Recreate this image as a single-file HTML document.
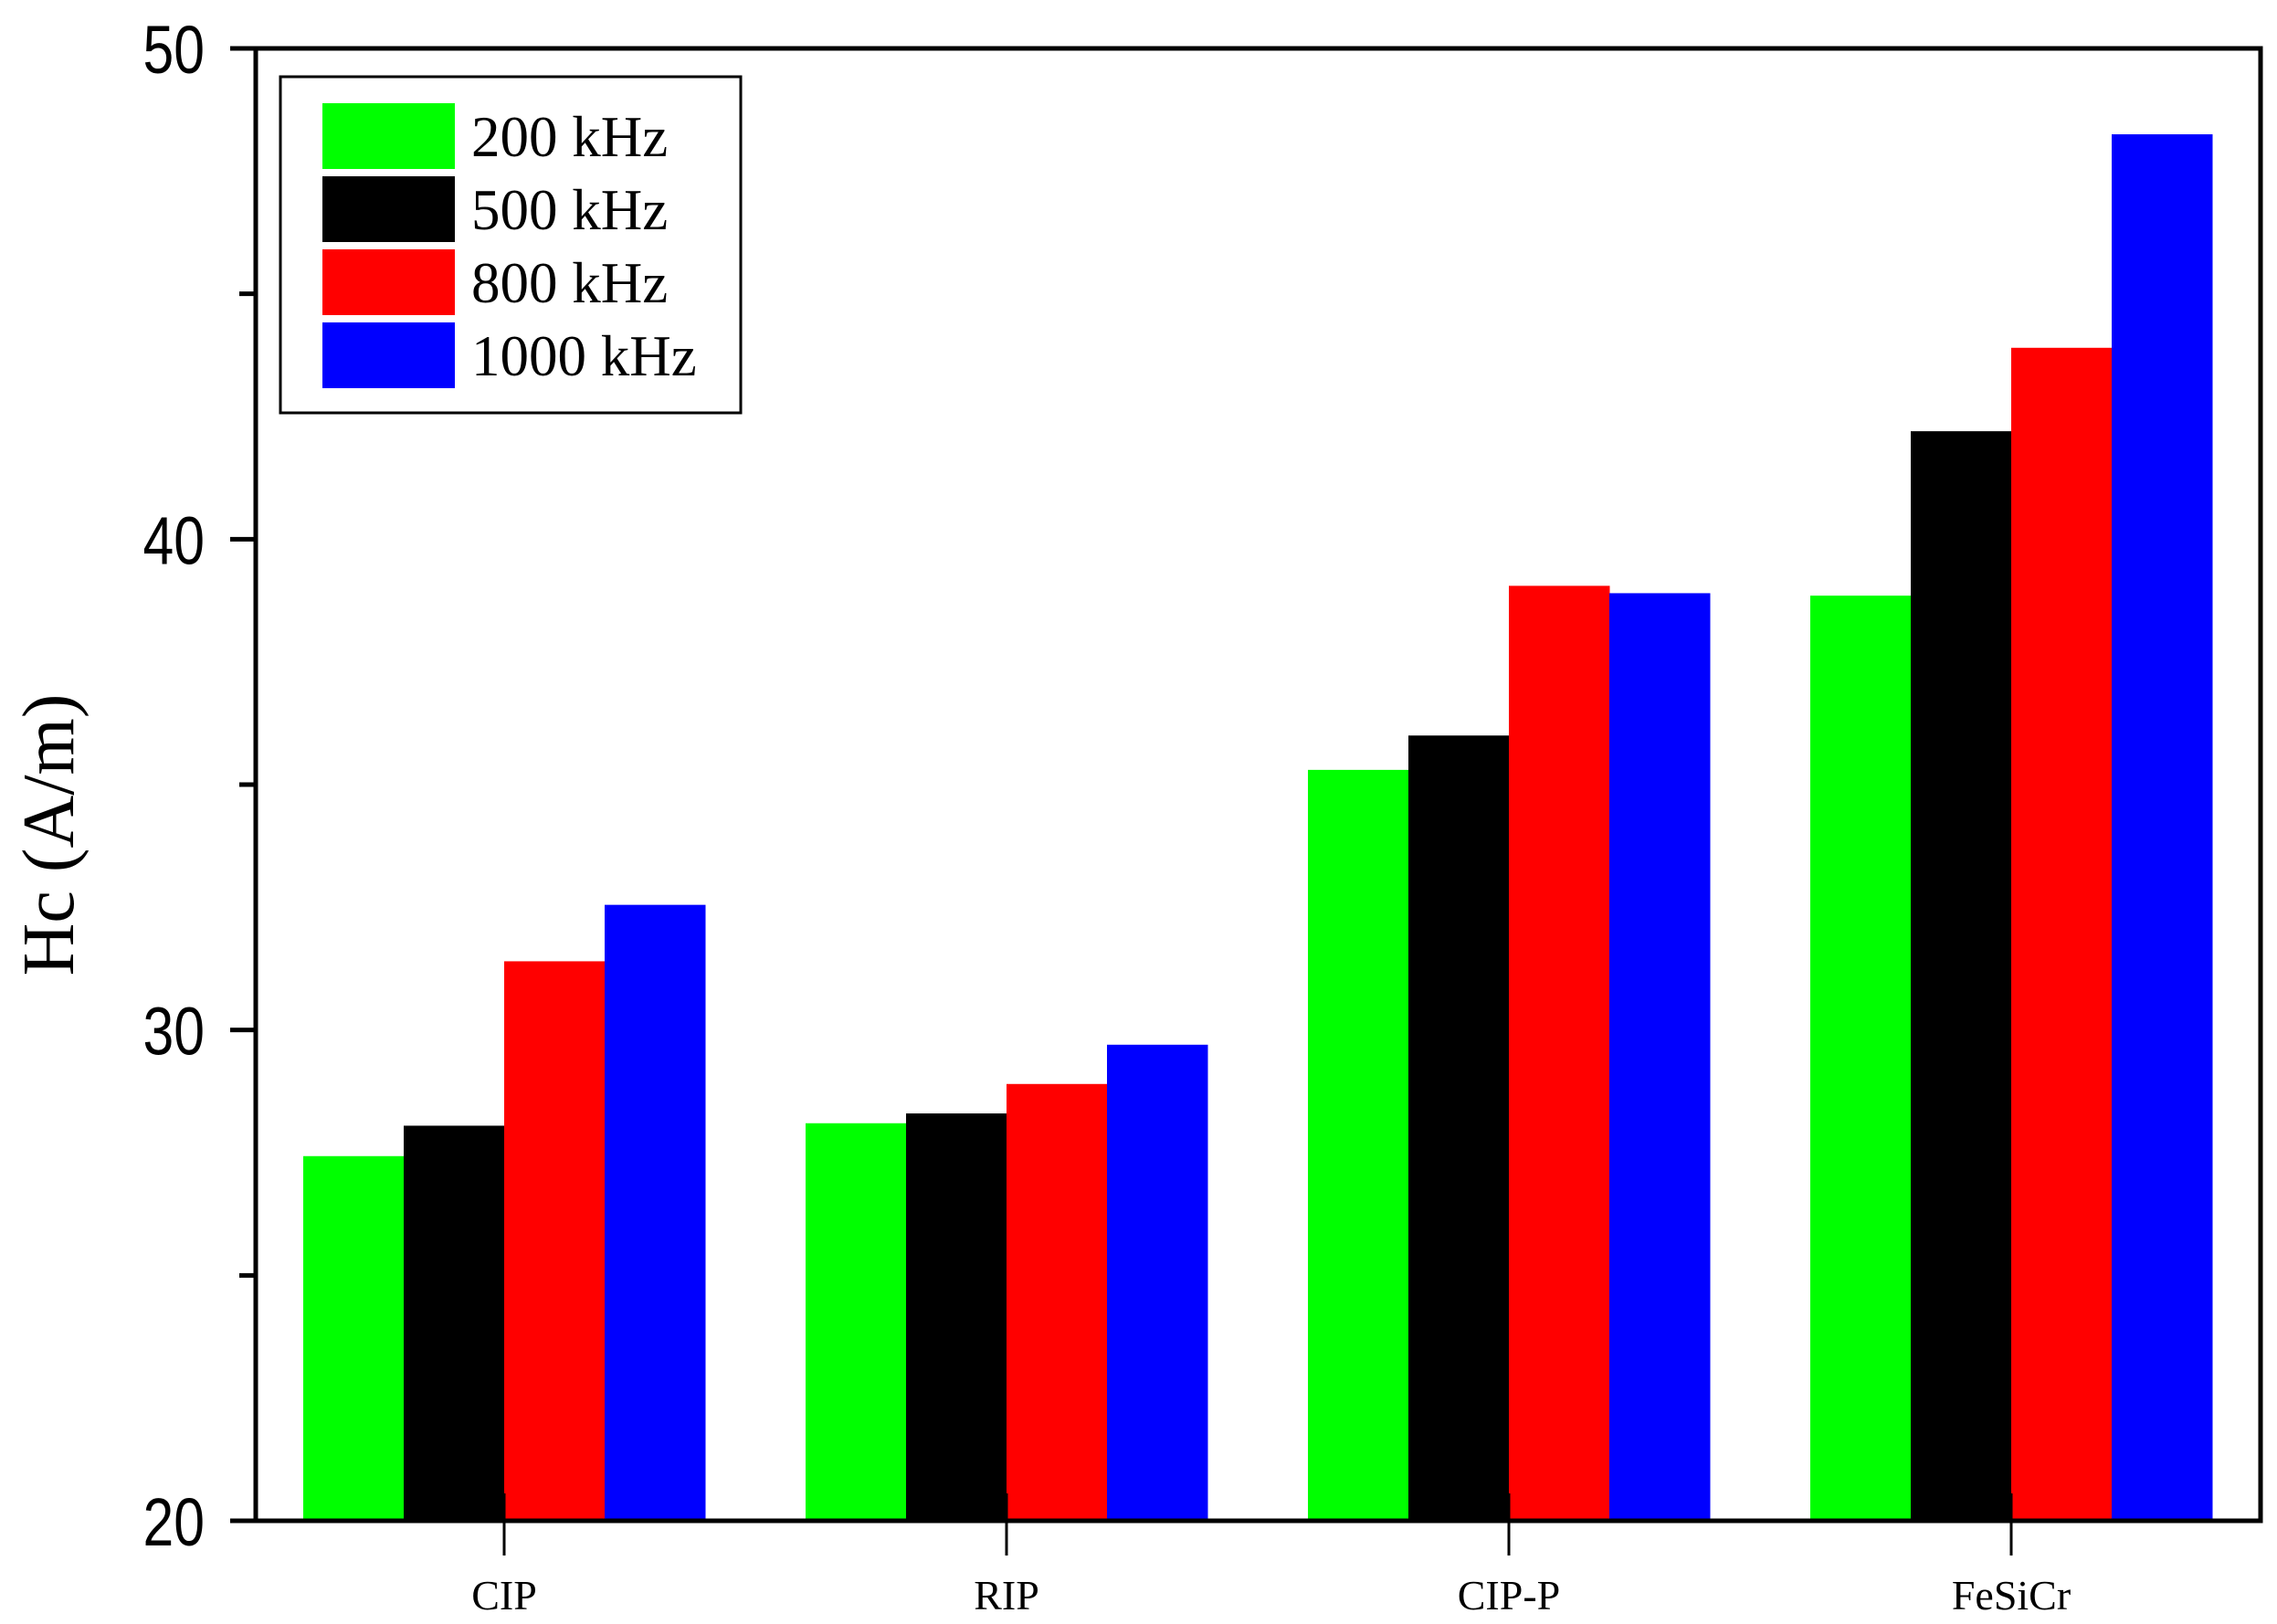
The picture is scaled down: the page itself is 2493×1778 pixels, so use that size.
<!DOCTYPE html>
<html><head><meta charset="utf-8"><style>
html,body{margin:0;padding:0;background:#fff;}
svg{display:block;}
</style></head><body>
<svg id="chart" width="2493" height="1778" xmlns="http://www.w3.org/2000/svg">
<g id="bars"></g>
<g id="axes"></g>
<g id="legend"></g>
<text x="0" y="0" transform="translate(80,914) rotate(-90)" text-anchor="middle" font-family="Liberation Serif, serif" font-size="80">Hc (A/m)</text>
</svg>
<script>
const categories = ["CIP","RIP","CIP-P","FeSiCr"];
const seriesNames = ["200 kHz","500 kHz","800 kHz","1000 kHz"];
const s200 = [27.43, 28.1, 35.3, 38.85];
const s500 = [28.05, 28.3, 36.0, 42.2];
const s800 = [31.4, 28.9, 39.05, 43.9];
const s1000 = [32.55, 29.7, 38.9, 48.25];
const yTicks = [20,30,40,50];
const yMinor = [25,35,45];
const colors = ["#00ff00","#000000","#ff0000","#0000ff"];
const series = [s200,s500,s800,s1000];

const NS="http://www.w3.org/2000/svg";
const L=280,R=2475,T=53,B=1665,yMin=20,yMax=50;
const y=v=>B-(v-yMin)/(yMax-yMin)*(B-T);
const groupCenter=i=>552+i*550;
const bw=110;
function mk(tag,attrs,parent){const e=document.createElementNS(NS,tag);for(const k in attrs)e.setAttribute(k,attrs[k]);parent.appendChild(e);return e;}
const bars=document.getElementById('bars'),axes=document.getElementById('axes'),legend=document.getElementById('legend');

series.forEach((s,si)=>{s.forEach((v,ci)=>{
  const x=groupCenter(ci)-2*bw+si*bw;
  const r=mk('rect',{x:x,y:y(v),width:bw+0.5,height:B-y(v),fill:colors[si]},bars);
  
  
});});

const frame=mk('rect',{x:L,y:T,width:R-L,height:B-T,fill:'none',stroke:'#000','stroke-width':5},axes);


yTicks.forEach(t=>{
  const ln=mk('line',{x1:L-28,x2:L,y1:y(t),y2:y(t),stroke:'#000','stroke-width':5},axes);
  
  
  const tx=mk('text',{x:0,y:0,'text-anchor':'end','font-family':'Liberation Sans, sans-serif','font-size':74,transform:'translate('+(L-56)+','+(y(t)+27)+') scale(0.82,1)'},axes);
  tx.textContent=t;
  
  
});
yMinor.forEach(t=>{
  const ln=mk('line',{x1:L-18,x2:L,y1:y(t),y2:y(t),stroke:'#000','stroke-width':5},axes);
  
  
});
categories.forEach((c,i)=>{
  const cx=groupCenter(i);
  const ln=mk('line',{x1:cx,x2:cx,y1:B-30,y2:B+38,stroke:'#000','stroke-width':3},axes);
  
  
  const tx=mk('text',{x:cx,y:1762,'text-anchor':'middle','font-family':'Liberation Serif, serif','font-size':46},axes);
  tx.textContent=c;
  
  
});

const lb=mk('rect',{x:307,y:84,width:504,height:368,fill:'#fff',stroke:'#000','stroke-width':3},legend);


seriesNames.forEach((n,i)=>{
  const yy=113+i*80;
  const sw=mk('rect',{x:353,y:yy,width:145,height:72,fill:colors[i]},legend);
  
  
  const tx=mk('text',{x:516,y:yy+58,'font-family':'Liberation Serif, serif','font-size':63},legend);
  tx.textContent=n;
  
  
});
</script>
</body></html>
